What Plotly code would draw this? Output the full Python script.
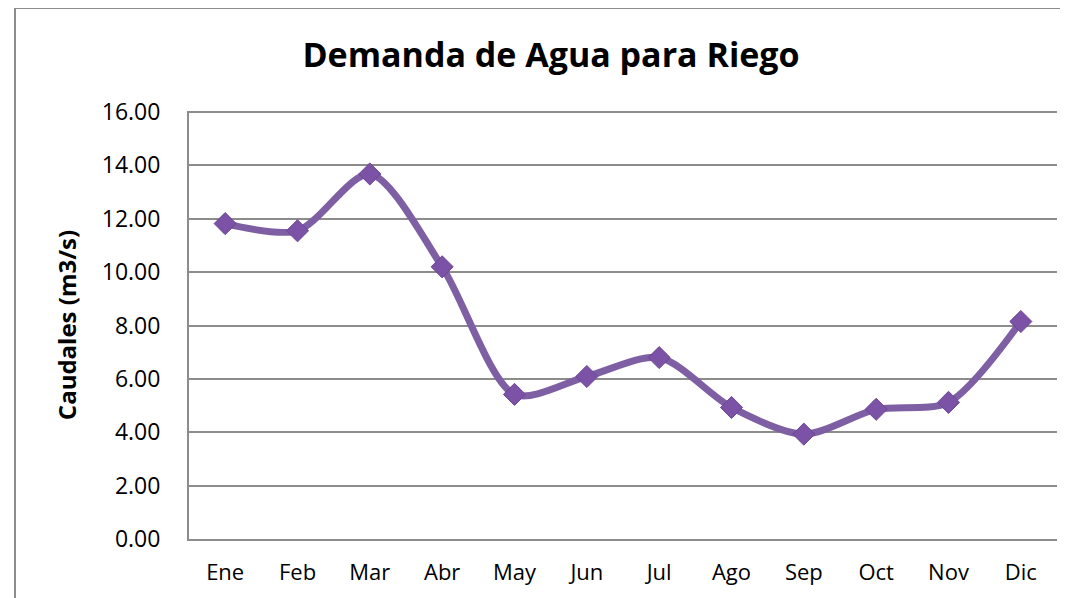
import plotly.graph_objects as go

meses = ['Ene', 'Feb', 'Mar', 'Abr', 'May', 'Jun', 'Jul', 'Ago', 'Sep', 'Oct', 'Nov', 'Dic']
caudales = [11.82, 11.55, 13.68, 10.20, 5.42, 6.09, 6.80, 4.93, 3.93, 4.86, 5.12, 8.15]
y_ticks = [0, 2, 4, 6, 8, 10, 12, 14, 16]

font_family = '"Open Sans", sans-serif'

fig = go.Figure()
fig.add_trace(go.Scatter(
    x=meses, y=caudales,
    mode='lines+markers',
    line=dict(color='#7E5FA4', width=7, shape='spline', smoothing=0.8),
    marker=dict(symbol='diamond', size=17, color='#7B52A6',
                line=dict(color='#6B4694', width=1)),
    showlegend=False,
))

# page has an 8px body margin, so margins are shifted to compensate
fig.update_layout(
    width=1068, height=598,
    margin=dict(l=181, r=19, t=103, b=67),
    paper_bgcolor='white', plot_bgcolor='white',
    font=dict(family=font_family, size=23, color='black'),
    title=dict(text='<b>Demanda de Agua para Riego</b>', x=(551 - 8) / 1068, xanchor='center',
               y=1 - 47 / 598, yanchor='middle', font=dict(size=34, color='black')),
    xaxis=dict(range=[-0.5, 11.5], showgrid=False, showline=True,
               linecolor='#8C8C8C', linewidth=2, ticks='', ticklabelstandoff=13,
               tickfont=dict(size=22)),
    yaxis=dict(range=[0, 16.04], tickvals=y_ticks, tickformat='.2f',
               showgrid=True, gridcolor='#8C8C8C', gridwidth=2,
               showline=True, linecolor='#8C8C8C', linewidth=2,
               zeroline=False, ticks='', ticklabelstandoff=22,
               tickfont=dict(size=23),
               title=dict(text='<b>Caudales (m3/s)</b>', font=dict(size=24), standoff=18)),
    shapes=[dict(type='rect', xref='paper', yref='paper',
                 x0=(15 - 189) / 868, x1=(1062 - 189) / 868,
                 y0=-(598 - 539 + 5) / 428, y1=(539 - 8) / 428,
                 line=dict(color='#8C8C8C', width=2), fillcolor='rgba(0,0,0,0)',
                 layer='below')],
)

fig.write_html('out.html')
